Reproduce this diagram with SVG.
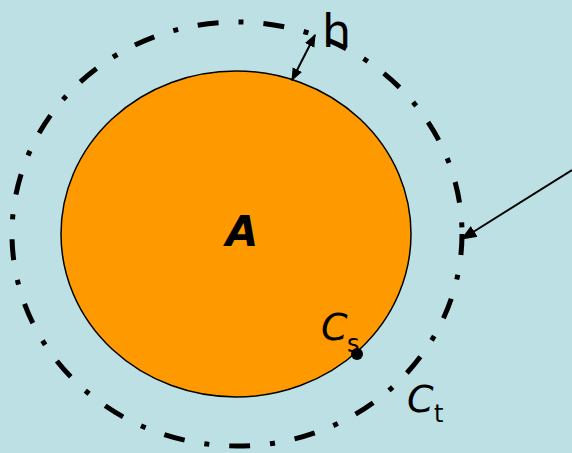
<svg xmlns="http://www.w3.org/2000/svg" width="572" height="453" viewBox="0 0 572 453">
<style>
.lbl{font-family:"DejaVu Sans","Liberation Sans",sans-serif;fill:#000}
</style>
<defs>
<marker id="ah" viewBox="0 0 10 10" refX="9" refY="5" markerWidth="13" markerHeight="13" markerUnits="userSpaceOnUse" orient="auto-start-reverse">
<path d="M0,1 L10,5 L0,9 z" fill="#000"/>
</marker>
<marker id="ah2" viewBox="0 0 10 10" refX="9" refY="5" markerWidth="16" markerHeight="16" markerUnits="userSpaceOnUse" orient="auto">
<path d="M0,1 L10,5 L0,9 z" fill="#000"/>
</marker>
</defs>
<rect width="572" height="453" fill="#bce0e4"/>
<g id="region-t">
<ellipse cx="237" cy="234" rx="225" ry="212" fill="none" stroke="#000" stroke-width="5" stroke-dasharray="21 20 5 20"/>
</g>
<g id="region-A">
<ellipse cx="236" cy="234" rx="175" ry="163" fill="#ff9900" stroke="#000" stroke-width="1.5"/>
<text class="lbl" x="242" y="246" font-size="42" font-style="italic" font-weight="bold" text-anchor="middle">A</text>
</g>
<g id="point-cs">
<circle cx="357" cy="354" r="6" fill="#000"/>
<text class="lbl" x="321" y="340" font-size="38" font-style="italic">C</text>
<text class="lbl" x="347" y="352" font-size="24">s</text>
</g>
<g id="label-ct">
<text class="lbl" x="407" y="412" font-size="38" font-style="italic">C</text>
<text class="lbl" x="434" y="422" font-size="24">t</text>
</g>
<g id="label-h">
<text class="lbl" x="322" y="47" font-size="46">h</text>
</g>
<g id="connectors">
<line x1="292" y1="80" x2="315" y2="35" stroke="#000" stroke-width="2" marker-start="url(#ah)" marker-end="url(#ah)"/>
<line x1="572" y1="170" x2="462" y2="239" stroke="#000" stroke-width="2" marker-end="url(#ah2)"/>
</g>
</svg>
